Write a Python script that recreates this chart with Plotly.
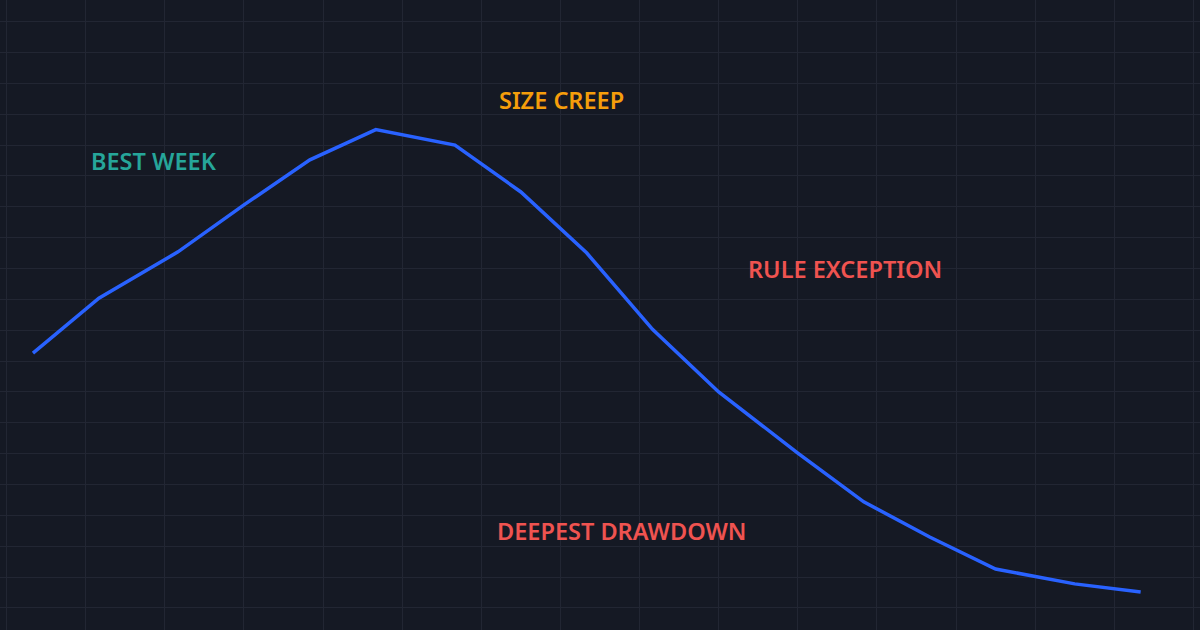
import plotly.graph_objects as go

# Data
days = [0, 5, 11, 16, 21, 26, 32, 37, 42, 47, 52, 58, 63, 68, 73, 79, 84]
equity = [41.3, 50.2, 57.7, 65.3, 72.6, 77.5, 75.0, 67.4, 57.5, 45.1, 35.0, 25.1, 17.2, 11.5, 6.3, 3.9, 2.6]

label_text = ["BEST WEEK", "SIZE CREEP", "RULE EXCEPTION", "DEEPEST DRAWDOWN"]
label_x = [9.2, 40.1, 61.6, 44.6]
label_y = [72.4, 82.3, 54.9, 12.5]
label_color = ["#26a69a", "#f59e0b", "#ef5350", "#ef5350"]

BG = "#151924"
GRID = "#222633"

fig = go.Figure()
fig.add_trace(go.Scatter(
    x=days, y=equity, mode="lines",
    line=dict(color="#2962ff", width=3.5),
    hoverinfo="skip", showlegend=False,
))

for t, x, y, c in zip(label_text, label_x, label_y, label_color):
    fig.add_annotation(
        x=x, y=y, text=t, showarrow=False,
        font=dict(family="Noto Sans", size=23.5, color=c, weight=600),
        xanchor="center", yanchor="middle",
    )

fig.update_layout(
    width=1200, height=630,
    margin=dict(l=0, r=0, t=0, b=0),
    paper_bgcolor=BG, plot_bgcolor=BG,
    xaxis=dict(range=[-2.5, 88.5], tick0=4, dtick=6, showgrid=True,
               gridcolor=GRID, gridwidth=1, zeroline=False,
               showticklabels=False, ticks="", showline=False, fixedrange=True),
    yaxis=dict(range=[-3.57, 98.5], tick0=0, dtick=5, showgrid=True,
               gridcolor=GRID, gridwidth=1, zeroline=False,
               showticklabels=False, ticks="", showline=False, fixedrange=True),
    hovermode=False,
)

fig.write_html(
    "out.html",
    config={"displayModeBar": False, "staticPlot": True},
    post_script="document.body.style.margin='0';document.body.style.background='" + BG + "';",
)
